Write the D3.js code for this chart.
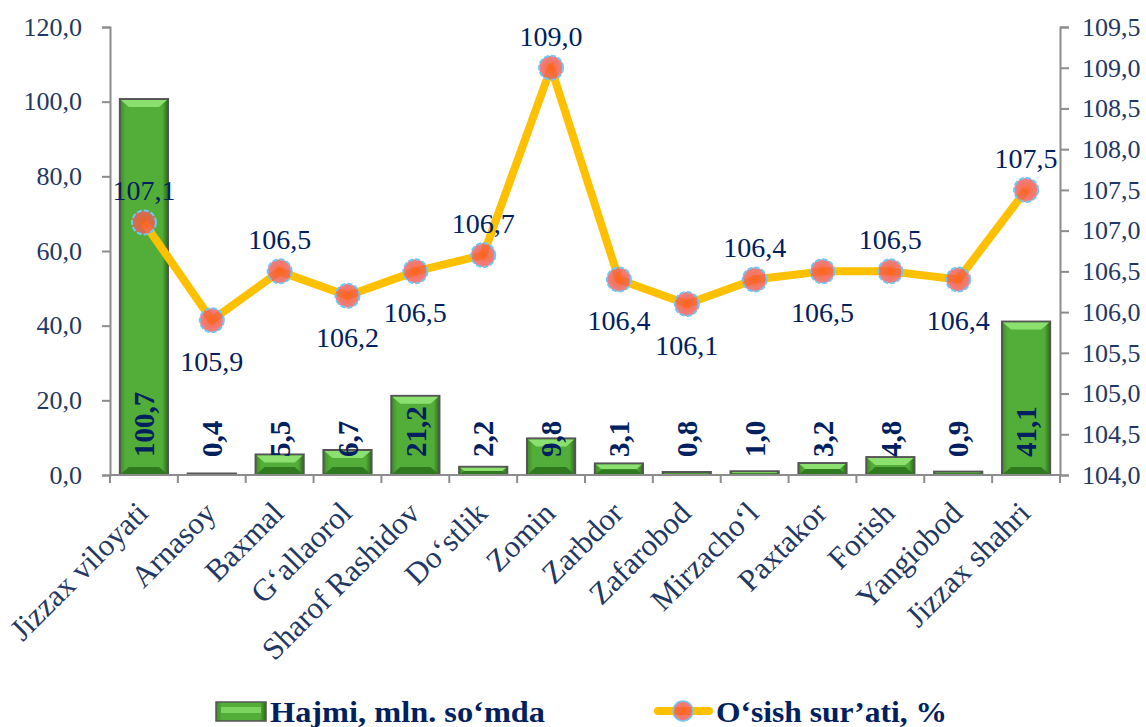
<!DOCTYPE html>
<html>
<head>
<meta charset="utf-8">
<script src="https://cdn.jsdelivr.net/npm/d3@7"></script>
<style>
  body { margin: 0; background: #fff; }
  svg, svg text { font-family: 'Liberation Serif', 'Times New Roman', 'DejaVu Serif', serif; }
</style>
</head>
<body>
<svg id="chart"></svg>
<script>
const categories = ["Jizzax viloyati","Arnasoy","Baxmal","G‘allaorol","Sharof Rashidov","Do‘stlik","Zomin","Zarbdor","Zafarobod","Mirzacho‘l","Paxtakor","Forish","Yangiobod","Jizzax shahri"];
const volume = [100.7, 0.4, 5.5, 6.7, 21.2, 2.2, 9.8, 3.1, 0.8, 1.0, 3.2, 4.8, 0.9, 41.1];
const growth = [107.1, 105.9, 106.5, 106.2, 106.5, 106.7, 109.0, 106.4, 106.1, 106.4, 106.5, 106.5, 106.4, 107.5];
// where the line label sits: 1 above, -1 below
const growthLabelPos = [1, -1, 1, -1, -1, 1, 1, -1, -1, 1, -1, 1, -1, 1];
const leftTicks = [0, 20, 40, 60, 80, 100, 120];
const rightTicks = [104, 104.5, 105, 105.5, 106, 106.5, 107, 107.5, 108, 108.5, 109, 109.5];
const seriesNames = ["Hajmi, mln. so‘mda", "O‘sish sur’ati, %"];

const width = 1146, height = 727;
const margin = {top: 27, right: 86, bottom: 252, left: 110};
const serif = "'Liberation Serif', 'Times New Roman', serif";
const svg = d3.select('#chart').attr('width', width).attr('height', height);

const textColor = "#1F3864";
const labelColor = "#002060";
const fmt = v => d3.format(".1f")(v).replace(".", ",");

const x = d3.scaleBand()
    .domain(categories)
    .range([margin.left, width - margin.right])
    .paddingInner(0.29)
    .paddingOuter(0.145);
const step = x.step();
const y = d3.scaleLinear().domain([0, 120]).range([height - margin.bottom, margin.top]);
const y2 = d3.scaleLinear().domain([104, 109.5]).range([height - margin.bottom, margin.top]);

const defs = svg.append("defs");
const bg = defs.append("linearGradient").attr("id", "barBody").attr("x1", 0).attr("x2", 1);
bg.append("stop").attr("offset", "0%").attr("stop-color", "#3E8A25");
bg.append("stop").attr("offset", "12%").attr("stop-color", "#52AE38");
bg.append("stop").attr("offset", "88%").attr("stop-color", "#52AE38");
bg.append("stop").attr("offset", "100%").attr("stop-color", "#2D6A1A");
const mg = defs.append("radialGradient").attr("id", "marker");
mg.append("stop").attr("offset", "0%").attr("stop-color", "#FF5A1A").attr("stop-opacity", 0.9);
mg.append("stop").attr("offset", "100%").attr("stop-color", "#E9606A").attr("stop-opacity", 0.8);

// axes
const axisColor = "#8C8C8C";
const yAxis = svg.append("g")
    .attr("transform", `translate(${margin.left},0)`)
    .call(d3.axisLeft(y).tickValues(leftTicks).tickSize(8).tickPadding(20).tickFormat(fmt));
const yAxis2 = svg.append("g")
    .attr("transform", `translate(${width - margin.right},0)`)
    .call(d3.axisRight(y2).tickValues(rightTicks).tickSize(9).tickPadding(13).tickFormat(fmt));
[yAxis, yAxis2].forEach(g => {
    g.attr("font-family", serif).attr("font-size", 26);
    g.select(".domain").attr("stroke", axisColor).attr("stroke-width", 2);
    g.selectAll(".tick line").attr("stroke", axisColor).attr("stroke-width", 2);
    g.selectAll(".tick text").attr("fill", textColor);
});

// bars
const base = y(0);
const bars = svg.append("g").selectAll("g").data(volume).join("g")
    .attr("transform", (d, i) => `translate(${x(categories[i])},0)`);
const bw = x.bandwidth();
bars.append("rect")
    .attr("y", d => y(d))
    .attr("width", bw)
    .attr("height", d => base - y(d))
    .attr("fill", "url(#barBody)")
    .attr("stroke", "#555")
    .attr("stroke-width", 2);
bars.append("path")
    .attr("d", d => {
        const t = y(d), h = base - t, b = Math.min(8, h / 2);
        return `M1,${t + 1}L${bw - 1},${t + 1}L${bw - 1 - b},${t + b}L${1 + b},${t + b}Z`;
    })
    .attr("fill", "#8BE070");
bars.append("path")
    .attr("d", d => {
        const t = y(d), h = base - t, b = Math.min(8, h / 2);
        return `M1,${base - 1}L${bw - 1},${base - 1}L${bw - 1 - b},${base - b}L${1 + b},${base - b}Z`;
    })
    .attr("fill", "#2F7A1E");
bars.append("text")
    .attr("transform", `translate(${bw / 2},${base - 18}) rotate(-90)`)
    .attr("dy", "0.35em")
    .attr("text-anchor", "start")
    .attr("font-family", serif)
    .attr("font-size", 29)
    .attr("font-weight", "bold")
    .attr("fill", labelColor)
    .text(d => fmt(d));

// x axis
const xAxis = svg.append("g").attr("transform", `translate(0,${base})`);
xAxis.append("line")
    .attr("x1", margin.left).attr("x2", width - margin.right)
    .attr("stroke", axisColor).attr("stroke-width", 2);
xAxis.selectAll(".tk").data(d3.range(categories.length + 1)).join("line")
    .attr("x1", i => margin.left + i * step).attr("x2", i => margin.left + i * step)
    .attr("y1", 0).attr("y2", 8)
    .attr("stroke", axisColor).attr("stroke-width", 2);
xAxis.selectAll("text").data(categories).join("text")
    .attr("transform", d => `translate(${x(d) + bw / 2 + 6},${40}) rotate(-45)`)
    .attr("text-anchor", "end")
    .attr("font-family", serif)
    .attr("font-size", 31)
    .attr("fill", textColor)
    .text(d => d);

// line
const cx = i => x(categories[i]) + bw / 2;
svg.append("path")
    .datum(growth)
    .attr("fill", "none")
    .attr("stroke", "#FFC000")
    .attr("stroke-width", 8)
    .attr("stroke-linejoin", "round")
    .attr("d", d3.line().x((d, i) => cx(i)).y(d => y2(d)));
svg.append("g").selectAll("circle").data(growth).join("circle")
    .attr("cx", (d, i) => cx(i))
    .attr("cy", d => y2(d))
    .attr("r", 12)
    .attr("fill", "url(#marker)")
    .attr("stroke", "#6EC8F2")
    .attr("stroke-width", 2)
    .attr("stroke-dasharray", "5,2");
svg.append("g").selectAll("text").data(growth).join("text")
    .attr("x", (d, i) => cx(i))
    .attr("y", (d, i) => y2(d) + (growthLabelPos[i] > 0 ? -32 : 41))
    .attr("dy", "0.35em")
    .attr("text-anchor", "middle")
    .attr("font-family", serif)
    .attr("font-size", 28)
    .attr("fill", labelColor)
    .text(d => fmt(d));

// legend
const lg = svg.append("g").attr("transform", `translate(0,711)`)
    .attr("font-family", serif);
lg.append("rect").attr("x", 216).attr("y", -9).attr("width", 50).attr("height", 19)
    .attr("fill", "url(#barBody)").attr("stroke", "#555").attr("stroke-width", 1.5);
lg.append("rect").attr("x", 221).attr("y", -4).attr("width", 40).attr("height", 6).attr("fill", "#7AD45E");
lg.append("text").attr("x", 270).attr("dy", "0.35em").attr("font-size", 30).attr("font-weight", "bold")
    .attr("fill", labelColor).attr("textLength", 275).attr("lengthAdjust", "spacingAndGlyphs")
    .text(seriesNames[0]);
lg.append("line").attr("x1", 658).attr("x2", 709).attr("stroke", "#FFC000")
    .attr("stroke-width", 8).attr("stroke-linecap", "round");
lg.append("circle").attr("cx", 683).attr("r", 10).attr("fill", "url(#marker)")
    .attr("stroke", "#6EC8F2").attr("stroke-width", 1.5);
lg.append("text").attr("x", 716).attr("dy", "0.35em").attr("font-size", 30).attr("font-weight", "bold")
    .attr("fill", labelColor).attr("textLength", 231).attr("lengthAdjust", "spacingAndGlyphs")
    .text(seriesNames[1]);
</script>
</body>
</html>
